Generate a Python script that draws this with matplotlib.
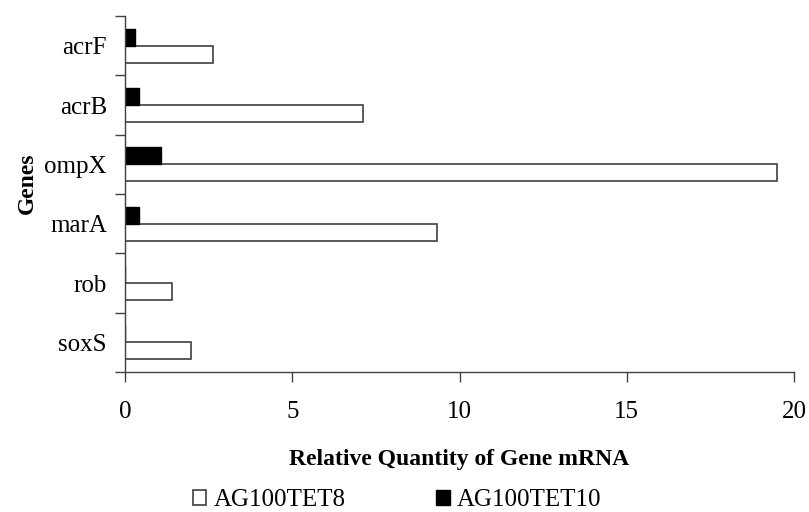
import numpy as np
import matplotlib
matplotlib.use("Agg")
import matplotlib.pyplot as plt

plt.rcParams['font.family'] = ['Liberation Serif', 'DejaVu Serif']

genes = ["soxS", "rob", "marA", "ompX", "acrB", "acrF"]
tet8 = [1.97, 1.40, 9.32, 19.49, 7.11, 2.62]
tet10 = [0.0, 0.0, 0.42, 1.07, 0.43, 0.30]
xticks = [0, 5, 10, 15, 20]

fig = plt.figure(figsize=(8.09, 5.12), dpi=100)
ax = fig.add_axes([0.1545, 0.2734, 0.827, 0.6953])

y = np.arange(len(genes))
h = 1 / 3.5
ax.barh(y - h / 2, tet8, height=h, color="white", edgecolor="#404040",
        linewidth=1.2, label="AG100TET8")
ax.barh(y + h / 2, tet10, height=h, color="black", edgecolor="black",
        linewidth=1.0, label="AG100TET10")

ax.set_xlim(0, 20)
ax.set_ylim(-0.5, len(genes) - 0.5)
ax.set_xticks(xticks)
ax.set_yticks(y)
ax.set_yticklabels(genes)
ax.set_yticks(np.arange(len(genes) + 1) - 0.5, minor=True)

for s in ["top", "right"]:
    ax.spines[s].set_visible(False)
for s in ["left", "bottom"]:
    ax.spines[s].set_color("#404040")
    ax.spines[s].set_linewidth(1.0)

ax.tick_params(axis="y", which="major", length=0, pad=13, labelsize=18)
ax.tick_params(axis="y", which="minor", length=7, width=1.0, color="#404040")
ax.tick_params(axis="x", length=7, width=1.0, color="#404040", pad=14,
               labelsize=18)

ax.set_xlabel("Relative Quantity of Gene mRNA", fontsize=17, fontweight="bold")
ax.xaxis.set_label_coords(0.5, -0.215)
ax.set_ylabel("Genes", fontsize=17, fontweight="bold")
ax.yaxis.set_label_coords(-0.13, 0.53)

fig.legend(loc="center", bbox_to_anchor=(0.491, 0.023), ncol=2, frameon=False,
           fontsize=18, handlelength=0.55, handleheight=0.55,
           handletextpad=0.3, columnspacing=3.6, borderpad=0)

fig.savefig("out.png", dpi=100)
